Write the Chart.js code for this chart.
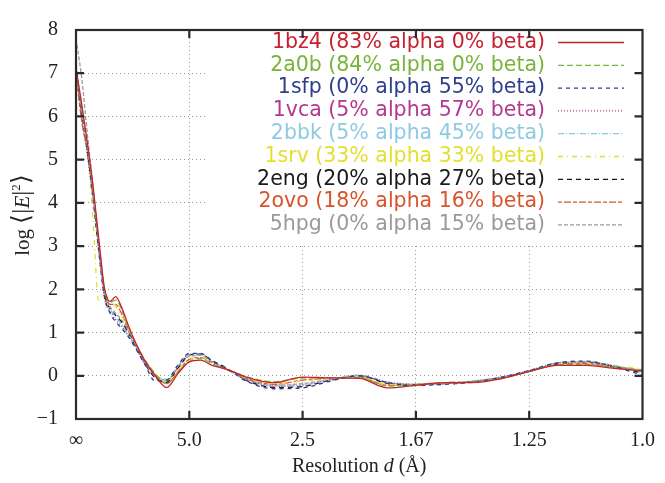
<!DOCTYPE html>
<html>
<head>
<meta charset="utf-8">
<script src="https://cdn.jsdelivr.net/npm/chart.js@4.4.0/dist/chart.umd.min.js"></script>
<style>
html, body { margin: 0; padding: 0; background: #fff; }
</style>
</head>
<body>
<canvas id="chart" width="665" height="483"></canvas>
<script>
// x is 1/d, so the resolution ticks are evenly spaced
const invRes = [0, 0.01, 0.02, 0.03, 0.04, 0.05, 0.06, 0.07, 0.08, 0.09, 0.10, 0.12, 0.14, 0.16, 0.18, 0.20, 0.22, 0.24, 0.26, 0.28, 0.30, 0.35, 0.40, 0.45, 0.50, 0.55, 0.60, 0.65, 0.70, 0.75, 0.80, 0.85, 0.90, 0.95, 1.00];
const tickLabels = ['∞', '5.0', '2.5', '1.67', '1.25', '1.0'];

const s1bz4 = [7.1, 6.3, 5.4, 4.4, 3.2, 2.05, 1.72, 1.83, 1.6, 1.25, 0.92, 0.38, 0.0, -0.27, 0.05, 0.32, 0.36, 0.24, 0.17, 0.08, -0.03, -0.16, -0.03, -0.05, -0.06, -0.28, -0.22, -0.16, -0.16, -0.07, 0.1, 0.24, 0.24, 0.17, 0.11];
const s2a0b = [7.0, 6.2, 5.3, 4.3, 3.1, 2.0, 1.7, 1.75, 1.55, 1.2, 0.9, 0.4, 0.05, -0.18, 0.08, 0.33, 0.4, 0.28, 0.18, 0.08, -0.02, -0.14, -0.05, -0.05, -0.04, -0.24, -0.2, -0.17, -0.14, -0.06, 0.1, 0.25, 0.26, 0.2, 0.14];
const s1sfp = [7.2, 6.1, 5.2, 4.1, 2.9, 1.85, 1.45, 1.25, 1.1, 0.95, 0.75, 0.3, -0.12, -0.1, 0.25, 0.52, 0.52, 0.35, 0.2, 0.05, -0.12, -0.3, -0.28, -0.12, 0.0, -0.16, -0.22, -0.2, -0.15, -0.04, 0.12, 0.3, 0.34, 0.2, 0.02];
const s1vca = [7.1, 6.0, 5.1, 4.1, 2.9, 1.8, 1.5, 1.3, 1.15, 0.97, 0.78, 0.32, -0.05, -0.12, 0.2, 0.5, 0.5, 0.33, 0.2, 0.06, -0.08, -0.25, -0.22, -0.1, 0.0, -0.15, -0.2, -0.18, -0.13, -0.03, 0.12, 0.3, 0.32, 0.22, 0.08];
const s2bbk = [7.3, 6.1, 5.2, 4.2, 3.0, 1.85, 1.55, 1.35, 1.2, 1.0, 0.8, 0.35, 0.0, -0.08, 0.22, 0.48, 0.48, 0.33, 0.2, 0.05, -0.08, -0.22, -0.2, -0.08, 0.02, -0.14, -0.2, -0.18, -0.12, -0.03, 0.12, 0.3, 0.33, 0.24, 0.1];
const s1srv = [7.0, 6.2, 5.3, 3.6, 1.75, 1.9, 1.75, 1.6, 1.4, 1.15, 0.88, 0.4, 0.05, -0.12, 0.12, 0.4, 0.42, 0.3, 0.18, 0.06, -0.05, -0.18, -0.12, -0.06, -0.03, -0.2, -0.2, -0.17, -0.13, -0.05, 0.1, 0.27, 0.3, 0.24, 0.16];
const s2eng = [7.0, 6.2, 5.2, 4.2, 3.0, 1.9, 1.55, 1.4, 1.25, 1.05, 0.82, 0.32, -0.05, -0.15, 0.18, 0.48, 0.5, 0.35, 0.22, 0.06, -0.1, -0.27, -0.25, -0.1, 0.0, -0.18, -0.22, -0.18, -0.14, -0.05, 0.1, 0.28, 0.32, 0.22, 0.06];
const s2ovo = [7.0, 5.9, 5.2, 4.2, 3.1, 2.0, 1.65, 1.65, 1.45, 1.15, 0.88, 0.38, 0.02, -0.18, 0.1, 0.38, 0.42, 0.3, 0.18, 0.06, -0.06, -0.2, -0.1, -0.06, -0.04, -0.22, -0.2, -0.16, -0.13, -0.05, 0.1, 0.26, 0.28, 0.2, 0.12];
const s5hpg = [7.8, 6.9, 5.6, 4.4, 3.1, 1.95, 1.6, 1.45, 1.3, 1.1, 0.85, 0.35, 0.0, -0.1, 0.18, 0.45, 0.47, 0.32, 0.2, 0.05, -0.08, -0.22, -0.18, -0.08, 0.0, -0.16, -0.2, -0.18, -0.13, -0.04, 0.1, 0.28, 0.3, 0.22, 0.1];

const keyLabels = [
    '1bz4 (83% alpha 0% beta)',
    '2a0b (84% alpha 0% beta)',
    '1sfp (0% alpha 55% beta)',
    '1vca (5% alpha 57% beta)',
    '2bbk (5% alpha 45% beta)',
    '1srv (33% alpha 33% beta)',
    '2eng (20% alpha 27% beta)',
    '2ovo (18% alpha 16% beta)',
    '5hpg (0% alpha 15% beta)',
];
const seriesValues = [s1bz4, s2a0b, s1sfp, s1vca, s2bbk, s1srv, s2eng, s2ovo, s5hpg];
const colors = ['#c8202e', '#79b43a', '#2c3e8c', '#b3388f', '#8ecae2', '#e4df2c', '#1a1a1a', '#d9532c', '#9a9a9a'];
const dashes = [[], [6, 3], [4, 4], [1, 2], [6, 2, 1, 2], [5, 4, 1, 4], [5, 4], [4, 2, 7, 2], [4, 2]];

const datasets = seriesValues.map((vals, i) => ({
    label: keyLabels[i],
    data: vals.map((v, j) => ({ x: invRes[j], y: v })),
    borderColor: colors[i],
    borderDash: dashes[i],
    borderWidth: 1.3,
    pointRadius: 0,
    cubicInterpolationMode: 'monotone',
    fill: false,
}));

const serif = '"Liberation Serif", "Times New Roman", serif';
const sans = '"DejaVu Sans", sans-serif';

// draws a string made of pieces [text, font, raise], centred on (x, y)
function mixedText(ctx, parts, x, y) {
    let w = 0;
    parts.forEach(p => { ctx.font = p[1]; w += ctx.measureText(p[0]).width; });
    let cx = x - w / 2;
    parts.forEach(p => {
        ctx.font = p[1];
        ctx.fillText(p[0], cx, y - (p[2] || 0));
        cx += ctx.measureText(p[0]).width;
    });
}

const gnuplotFrame = {
    id: 'gnuplotFrame',
    beforeDatasetsDraw(chart) {
        const ctx = chart.ctx, a = chart.chartArea;
        ctx.save();
        ctx.fillStyle = '#fff';
        ctx.fillRect(206, a.top + 1, a.right - 207, 215);
        ctx.restore();
    },
    afterDraw(chart) {
        const ctx = chart.ctx, a = chart.chartArea;
        const xs = chart.scales.x, ys = chart.scales.y;
        ctx.save();

        // key
        ctx.textAlign = 'right';
        ctx.textBaseline = 'middle';
        ctx.font = '20.5px ' + sans;
        keyLabels.forEach((t, i) => {
            const y = 42.5 + i * 22.8;
            ctx.fillStyle = colors[i];
            ctx.fillText(t, 545, y);
            ctx.strokeStyle = colors[i];
            ctx.lineWidth = 1.3;
            ctx.setLineDash(dashes[i]);
            ctx.beginPath();
            ctx.moveTo(558, y);
            ctx.lineTo(624, y);
            ctx.stroke();
        });
        ctx.setLineDash([]);

        // border and inward ticks on all four sides
        ctx.strokeStyle = '#2a2a2a';
        ctx.lineWidth = 2.2;
        ctx.strokeRect(a.left, a.top, a.right - a.left, a.bottom - a.top);
        ctx.beginPath();
        xs.ticks.forEach((t, i) => {
            if (i === 0 || i === xs.ticks.length - 1) return;
            const px = xs.getPixelForValue(t.value);
            ctx.moveTo(px, a.bottom); ctx.lineTo(px, a.bottom - 8);
            ctx.moveTo(px, a.top); ctx.lineTo(px, a.top + 8);
        });
        ys.ticks.forEach((t, i) => {
            if (i === 0 || i === ys.ticks.length - 1) return;
            const py = ys.getPixelForValue(t.value);
            ctx.moveTo(a.left, py); ctx.lineTo(a.left + 8, py);
            ctx.moveTo(a.right, py); ctx.lineTo(a.right - 8, py);
        });
        ctx.stroke();

        // axis titles
        ctx.fillStyle = '#222';
        ctx.textAlign = 'left';
        ctx.textBaseline = 'alphabetic';
        const up = '20px ' + serif, it = 'italic 20px ' + serif;
        mixedText(ctx, [['Resolution ', up], ['d', it], [' (Å)', up]], (a.left + a.right) / 2, 472);
        ctx.translate(29, 215);
        ctx.rotate(-Math.PI / 2);
        const yt = '21px ' + serif, big = '25px ' + serif;
        mixedText(ctx, [['log ', yt], ['⟨|', big], ['E', 'italic 21px ' + serif], ['|', big], ['2', '13px ' + serif, 9], ['⟩', big]], 0, 0);
        ctx.restore();
    }
};

new Chart(document.getElementById('chart'), {
    type: 'line',
    data: { datasets: datasets },
    plugins: [gnuplotFrame],
    options: {
        responsive: false,
        animation: false,
        devicePixelRatio: 1,
        layout: { padding: { left: 0, right: 15, top: 21, bottom: 0 } },
        plugins: { legend: { display: false }, tooltip: { enabled: false } },
        scales: {
            x: {
                type: 'linear',
                min: 0,
                max: 1,
                afterFit: s => { s.height = 64; },
                ticks: {
                    stepSize: 0.2,
                    padding: 10,
                    color: '#222',
                    font: { family: serif, size: 20 },
                    maxRotation: 0,
                    callback: (v, i) => tickLabels[i],
                },
                grid: { color: '#999', lineWidth: 1, drawTicks: false },
                border: { display: false, dash: [1, 3] },
            },
            y: {
                type: 'linear',
                min: -1,
                max: 8,
                afterFit: s => { s.width = 76; },
                ticks: {
                    stepSize: 1,
                    padding: 18,
                    color: '#222',
                    font: { family: serif, size: 20 },
                    callback: v => v < 0 ? '−' + Math.abs(v) : String(v),
                },
                grid: { color: '#999', lineWidth: 1, drawTicks: false },
                border: { display: false, dash: [1, 3] },
            },
        },
    },
});
</script>
</body>
</html>
